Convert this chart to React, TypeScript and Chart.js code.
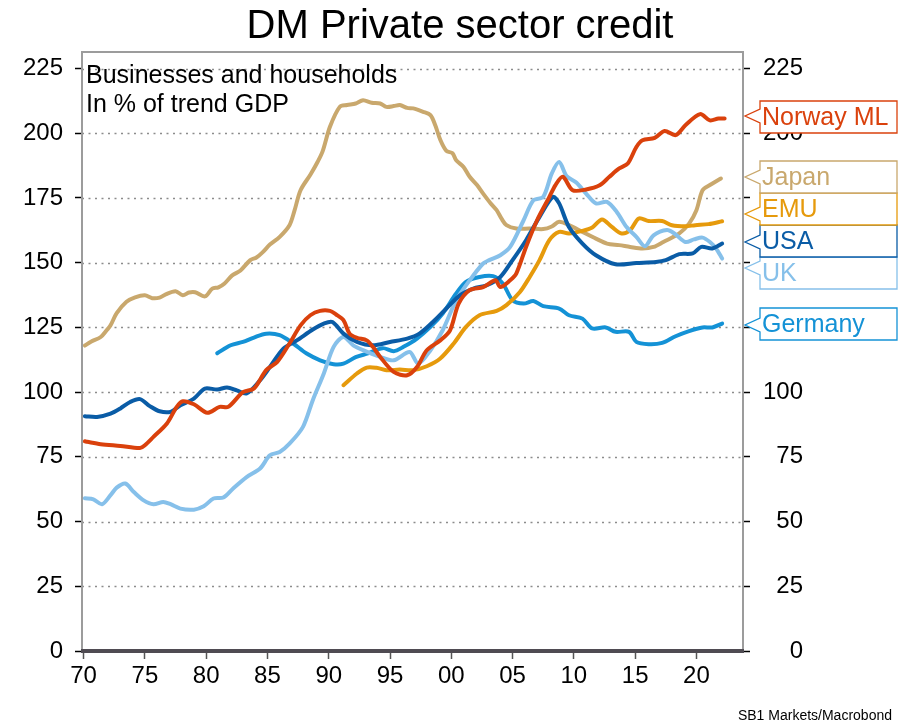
import React, { useEffect, useRef } from 'react';
import { Chart, registerables } from 'chart.js';

Chart.register(...registerables);

const TITLE = 'DM Private sector credit';
const NOTE_LINES = ['Businesses and households', 'In % of trend GDP'];
const SOURCE = 'SB1 Markets/Macrobond';

const X_TICK_YEARS = [1970, 1975, 1980, 1985, 1990, 1995, 2000, 2005, 2010, 2015, 2020];
const X_TICK_LABELS = ['70', '75', '80', '85', '90', '95', '00', '05', '10', '15', '20'];
const Y_TICKS = [0, 25, 50, 75, 100, 125, 150, 175, 200, 225];

// [year, % of trend GDP]
const NORWAY: [number, number][] = [
  [1970.1, 81], [1970.3, 80.8], [1971.4, 79.9], [1973, 79.2], [1974.6, 78.4], [1975, 79.5], [1975.7, 82.7],
  [1976.8, 87.9], [1977.6, 94.3], [1978.1, 96.5], [1979, 95.3], [1980.1, 92], [1981.1, 94.3], [1981.8, 94.3],
  [1983, 100], [1983.9, 101.4], [1984.9, 108.5], [1985.8, 111.7], [1986.8, 118.8], [1987.7, 125.8], [1988.5, 129.7],
  [1989.3, 131.4], [1990.1, 131.4], [1990.6, 130], [1991.2, 127.8], [1991.7, 122.6], [1992.3, 121], [1993.1, 120],
  [1993.6, 117.5], [1994.2, 113.6], [1995.3, 107.8], [1996.4, 106.5], [1997.2, 109.7], [1998, 116.2], [1999.1, 120],
  [1999.9, 123.9], [2000.6, 134.2], [2001.5, 139.4], [2002.6, 140.6], [2003.6, 143.2], [2004, 140.6], [2004.8, 143.2],
  [2005.3, 145.8], [2006.1, 156.1], [2007, 166.4], [2008, 175.4], [2008.5, 180], [2009.1, 183.2], [2009.9, 178],
  [2011, 178.3], [2012.1, 179.9], [2012.9, 183.2], [2013.7, 186.4], [2014.4, 188.3], [2015.1, 194.7], [2015.6, 197.3],
  [2016.6, 198.2], [2017.4, 200.9], [2018.3, 199.3], [2019.1, 203.1], [2020.3, 207.4], [2021.1, 205], [2021.8, 205.7],
  [2022.3, 205.7],
];

const JAPAN: [number, number][] = [
  [1970.1, 118], [1970.6, 119.5], [1971.4, 121.3], [1971.9, 124], [1972.2, 125.8], [1972.7, 130.5], [1973.5, 134.9],
  [1974.2, 136.6], [1975, 137.4], [1975.6, 136.3], [1976.2, 136.5], [1976.7, 137.8], [1977.5, 139], [1978.1, 137.4],
  [1978.6, 138.5], [1979.1, 138.6], [1979.9, 137], [1980.5, 140], [1981, 140.5], [1981.5, 142], [1982.1, 145],
  [1982.8, 147], [1983.6, 151], [1984.1, 152], [1984.6, 154], [1985.2, 157], [1986, 160], [1986.8, 164.5],
  [1987.2, 170], [1987.7, 178], [1988.5, 184], [1989.1, 189], [1989.5, 193], [1990.1, 202.5], [1990.9, 210.2],
  [1991.5, 210.9], [1992.2, 211.5], [1992.8, 212.8], [1993.5, 211.8], [1994.2, 211.5], [1994.7, 210.2],
  [1995.3, 210.5], [1995.8, 210.9], [1996.4, 209.8], [1996.9, 209.6], [1997.7, 208.3], [1998.3, 207], [1998.7, 203],
  [1999.1, 197.5], [1999.6, 193.2], [2000.1, 192.3], [2000.4, 189.6], [2001, 187], [2001.5, 183.2], [2002.1, 180],
  [2002.6, 176.7], [2003.2, 173], [2003.7, 170.3], [2004.1, 167], [2004.5, 164.5], [2005.3, 163.2], [2006.4, 163.2],
  [2007.5, 163], [2008.2, 164], [2008.8, 165.8], [2009.6, 164.5], [2010.7, 161.9], [2011.8, 159.3], [2012.7, 157.4],
  [2013.7, 156.8], [2014.6, 156.1], [2015.6, 155.5], [2016.5, 156.1], [2017.3, 158], [2018.6, 161.3], [2019.4, 165.1],
  [2020, 170.3], [2020.5, 178], [2021.1, 180], [2022, 182.5],
];

const EMU: [number, number][] = [
  [1991.2, 102.7], [1992.3, 107.2], [1993.1, 109.5], [1993.9, 109.4], [1994.7, 108.5], [1995.8, 108.7],
  [1996.9, 108.5], [1998, 110], [1999.1, 113], [2000.2, 118.8], [2001.2, 125.2], [2002.3, 129.7], [2003.7, 131.4],
  [2004.5, 133.6], [2005.6, 138.7], [2006.4, 144.5], [2007.2, 151], [2008, 158.7], [2008.8, 161.9], [2009.6, 161.3],
  [2010.7, 162.3], [2011.5, 163.6], [2012.3, 166.7], [2013.1, 163.8], [2013.9, 161.3], [2014.6, 162.6],
  [2015.3, 167.1], [2016.1, 166.1], [2017.2, 166.1], [2018, 164.5], [2019.1, 164.1], [2019.9, 164.5], [2021, 164.9],
  [2022.1, 166],
];

const USA: [number, number][] = [
  [1970.1, 90.7], [1971.1, 90.4], [1972.2, 91.7], [1973, 93.7], [1973.8, 96.2], [1974.6, 97.3], [1975.4, 94.6],
  [1976.2, 92.6], [1977.1, 92.4], [1977.9, 94.9], [1979, 97.5], [1979.9, 101.4], [1980.9, 101], [1981.7, 101.8],
  [1982.5, 100.7], [1983.3, 99.5], [1984.4, 104.6], [1985.2, 109.7], [1986.3, 116.8], [1987.4, 120], [1988.7, 124.2],
  [1989.6, 126.5], [1990.3, 127.1], [1991.2, 122.6], [1992.3, 119.4], [1993.6, 118.1], [1995, 119.4], [1996.4, 120.7],
  [1997.4, 122.6], [1998.5, 127.1], [1999.6, 132.3], [2000.7, 137.4], [2001.8, 140], [2002.9, 141.3], [2004, 144.5],
  [2005, 151], [2006.1, 158.7], [2007.2, 167.7], [2008.3, 175.4], [2008.8, 172.9], [2009.6, 163.8], [2010.7, 157.4],
  [2011.8, 152.9], [2013.4, 149.4], [2015.1, 149.9], [2016.7, 150.3], [2017.5, 151], [2018.6, 153.3], [2019.7, 153.6],
  [2020.4, 156.1], [2021.3, 155.5], [2022.1, 157.4],
];

const UK: [number, number][] = [
  [1970.1, 59], [1970.8, 58.6], [1971.5, 56.7], [1972.2, 60.2], [1972.7, 63.1], [1973.4, 64.7], [1974.1, 61.4],
  [1974.9, 58.2], [1975.7, 56.7], [1976.5, 57.6], [1977.1, 56.7], [1977.9, 55], [1979, 54.6], [1979.8, 55.9],
  [1980.6, 58.9], [1981.4, 59.3], [1982.2, 62.8], [1983.3, 67.2], [1984.4, 70.5], [1985.2, 75.6], [1986, 76.9],
  [1986.8, 80.1], [1987.9, 86.6], [1988.7, 96.9], [1989.6, 107.2], [1990.4, 117.5], [1991.2, 121.3], [1992, 118.1],
  [1992.8, 116.2], [1994.2, 113.6], [1995.3, 112.3], [1996.6, 115.5], [1997.3, 111], [1998.3, 116.2], [1999.3, 123.9],
  [2000.4, 135.5], [2001.5, 143.2], [2002.6, 149.7], [2003.1, 151], [2004, 152.9], [2004.8, 156.1], [2005.9, 166.4],
  [2006.7, 174.1], [2007.5, 175.4], [2008.2, 184.5], [2008.8, 188.9], [2009.4, 183.5], [2010.2, 181], [2011, 176.7],
  [2011.8, 172.9], [2012.7, 173.5], [2013.5, 169.6], [2014.3, 163.8], [2015.1, 160], [2015.8, 156.4], [2016.5, 160.6],
  [2017.6, 162.6], [2018.2, 161.3], [2019.1, 158], [2019.8, 159], [2020.5, 159.7], [2021.1, 158], [2021.6, 155.5],
  [2022.1, 151.6],
];

const GERMANY: [number, number][] = [
  [1980.9, 115], [1982, 118.1], [1983, 119.4], [1983.9, 121.1], [1984.9, 122.6], [1986, 122], [1987.1, 118.8],
  [1988.2, 114.9], [1989.3, 112.3], [1990.4, 110.8], [1991.2, 111], [1992.2, 113.5], [1993.2, 115], [1994.4, 117],
  [1995.3, 115.8], [1996.1, 117.5], [1997.2, 120.7], [1998.3, 125.2], [1999.3, 130.4], [2000.4, 138.1],
  [2001.2, 142.6], [2002.3, 144.5], [2003.4, 144.8], [2004.2, 142], [2005, 135.5], [2005.9, 134.2], [2006.7, 135.2],
  [2007.5, 133.2], [2008.8, 132.3], [2009.6, 129.7], [2010.7, 128.4], [2011.5, 124.6], [2012.6, 125], [2013.4, 123.3],
  [2014.5, 123.3], [2015.1, 119.4], [2016.1, 118.5], [2017.2, 119], [2018.3, 121.6], [2019.4, 123.6], [2020.5, 125],
  [2021.3, 125], [2022.1, 126.5],
];

const SERIES_NAMES = ['Norway ML', 'Japan', 'EMU', 'USA', 'UK', 'Germany'];
const SERIES_DATA = [NORWAY, JAPAN, EMU, USA, UK, GERMANY];
const SERIES_COLORS = ['#DA410C', '#C9A86D', '#E69A0C', '#0A5CA6', '#86C0EA', '#1492D6'];
const SERIES_ORDER = [1, 6, 4, 2, 3, 5]; // drawing order (lower = on top)

// label box layout (pixels)
const LABEL_TOPS = [101, 161, 193, 225, 257, 308];
const LABEL_TIPS = [116, 177, 214, 242, 268, 325];

const FONT = '"Liberation Sans", Arial, Helvetica, sans-serif';

const decorPlugin = {
  id: 'decor',
  beforeDatasetsDraw(chart: any) {
    const { ctx, chartArea, scales } = chart;
    const { left, right } = chartArea;
    ctx.save();
    ctx.strokeStyle = '#8c8c8c';
    ctx.lineWidth = 1.5;
    ctx.setLineDash([2, 4.5]);
    for (const v of Y_TICKS) {
      if (v === 0) continue;
      const py = Math.round(scales.y.getPixelForValue(v)) + 0.5;
      ctx.beginPath();
      ctx.moveTo(left, py);
      ctx.lineTo(right, py);
      ctx.stroke();
    }
    ctx.restore();
  },
  afterDatasetsDraw(chart: any) {
    const { ctx, chartArea } = chart;
    const { left, right, top, bottom } = chartArea;
    ctx.save();
    ctx.strokeStyle = '#9c9c9c';
    ctx.lineWidth = 2;
    ctx.beginPath();
    ctx.moveTo(left, bottom);
    ctx.lineTo(left, top);
    ctx.lineTo(right, top);
    ctx.lineTo(right, bottom);
    ctx.stroke();
    ctx.strokeStyle = '#4f4b52';
    ctx.lineWidth = 4;
    ctx.beginPath();
    ctx.moveTo(left - 1, bottom);
    ctx.lineTo(right + 1, bottom);
    ctx.stroke();
    ctx.restore();
  },
  afterDraw(chart: any) {
    const { ctx, chartArea } = chart;
    ctx.save();
    // title
    ctx.fillStyle = '#000';
    ctx.font = `40px ${FONT}`;
    ctx.textAlign = 'center';
    ctx.textBaseline = 'alphabetic';
    ctx.fillText(TITLE, 460, 38);
    // note
    ctx.font = `25px ${FONT}`;
    ctx.textAlign = 'left';
    ctx.fillText(NOTE_LINES[0], chartArea.left + 4, 83);
    ctx.fillText(NOTE_LINES[1], chartArea.left + 4, 112);
    // source
    ctx.font = `14px ${FONT}`;
    ctx.textAlign = 'right';
    ctx.fillText(SOURCE, 892, 720);
    // label boxes (bottom to top)
    const bx = 760;
    const bw = 137;
    const bh = 32;
    const tipX = 745;
    for (let i = SERIES_NAMES.length - 1; i >= 0; i--) {
      const t = LABEL_TOPS[i];
      const tip = LABEL_TIPS[i];
      const color = SERIES_COLORS[i];
      ctx.beginPath();
      ctx.moveTo(bx, tip - 7);
      ctx.lineTo(bx, t);
      ctx.lineTo(bx + bw, t);
      ctx.lineTo(bx + bw, t + bh);
      ctx.lineTo(bx, t + bh);
      ctx.lineTo(bx, tip + 7);
      ctx.lineTo(tipX, tip);
      ctx.closePath();
      ctx.fillStyle = '#fff';
      ctx.fill();
      ctx.strokeStyle = color;
      ctx.lineWidth = 1.3;
      ctx.stroke();
      ctx.fillStyle = color;
      ctx.font = `25px ${FONT}`;
      ctx.textAlign = 'left';
      ctx.textBaseline = 'alphabetic';
      ctx.fillText(SERIES_NAMES[i], bx + 2, t + 24);
    }
    ctx.restore();
  },
};

export default function App() {
  const ref = useRef<HTMLCanvasElement | null>(null);

  useEffect(() => {
    document.body.style.margin = '0';
    const canvas = ref.current;
    if (!canvas) return;
    const tickFont = { family: FONT, size: 24 };
    const chart = new Chart(canvas, {
      type: 'line',
      data: {
        datasets: SERIES_DATA.map((s, i) => ({
          label: SERIES_NAMES[i],
          data: s.map(([x, y]) => ({ x, y })),
          borderColor: SERIES_COLORS[i],
          backgroundColor: SERIES_COLORS[i],
          borderWidth: 4,
          pointRadius: 0,
          tension: 0.3,
          fill: false,
          borderCapStyle: 'round',
          borderJoinStyle: 'round',
          order: SERIES_ORDER[i],
          yAxisID: 'y',
        })),
      },
      options: {
        animation: false,
        responsive: false,
        maintainAspectRatio: false,
        events: [],
        layout: { padding: { top: 52, left: 0, right: 105, bottom: 0 } },
        plugins: {
          legend: { display: false },
          tooltip: { enabled: false },
          title: { display: false },
        },
        scales: {
          x: {
            type: 'linear',
            min: 1969.87,
            max: 2023.8,
            afterBuildTicks: (scale: any) => {
              scale.ticks = X_TICK_YEARS.map((v) => ({ value: v }));
            },
            afterFit: (scale: any) => {
              scale.height = 72;
            },
            ticks: {
              autoSkip: false,
              maxRotation: 0,
              font: tickFont,
              color: '#000',
              padding: 3,
              callback: (v: any) => {
                const idx = X_TICK_YEARS.indexOf(Number(v));
                return idx >= 0 ? X_TICK_LABELS[idx] : '';
              },
            },
            grid: {
              drawOnChartArea: false,
              drawTicks: true,
              tickLength: 8,
              tickColor: '#555',
              tickWidth: 1.5,
            },
            border: { display: false },
          },
          y: {
            position: 'left',
            min: 0,
            max: 231.4,
            afterBuildTicks: (scale: any) => {
              scale.ticks = Y_TICKS.map((v) => ({ value: v }));
            },
            afterFit: (scale: any) => {
              scale.width = 82;
            },
            ticks: { font: tickFont, color: '#000', padding: 12 },
            grid: {
              drawOnChartArea: false,
              drawTicks: true,
              tickLength: 7,
              tickColor: '#000',
              tickWidth: 1.5,
            },
            border: { display: false },
          },
          y2: {
            position: 'right',
            min: 0,
            max: 231.4,
            afterBuildTicks: (scale: any) => {
              scale.ticks = Y_TICKS.map((v) => ({ value: v }));
            },
            afterFit: (scale: any) => {
              scale.width = 60;
            },
            ticks: { font: tickFont, color: '#000', padding: 10, crossAlign: 'far' },
            grid: {
              drawOnChartArea: false,
              drawTicks: true,
              tickLength: 7,
              tickColor: '#000',
              tickWidth: 1.5,
            },
            border: { display: false },
          },
        },
      },
      plugins: [decorPlugin],
    } as any);
    return () => chart.destroy();
  }, []);

  return (
    <div style={{ width: 908, height: 723, background: '#fff' }}>
      <canvas ref={ref} width={908} height={723} style={{ display: 'block' }} />
    </div>
  );
}
